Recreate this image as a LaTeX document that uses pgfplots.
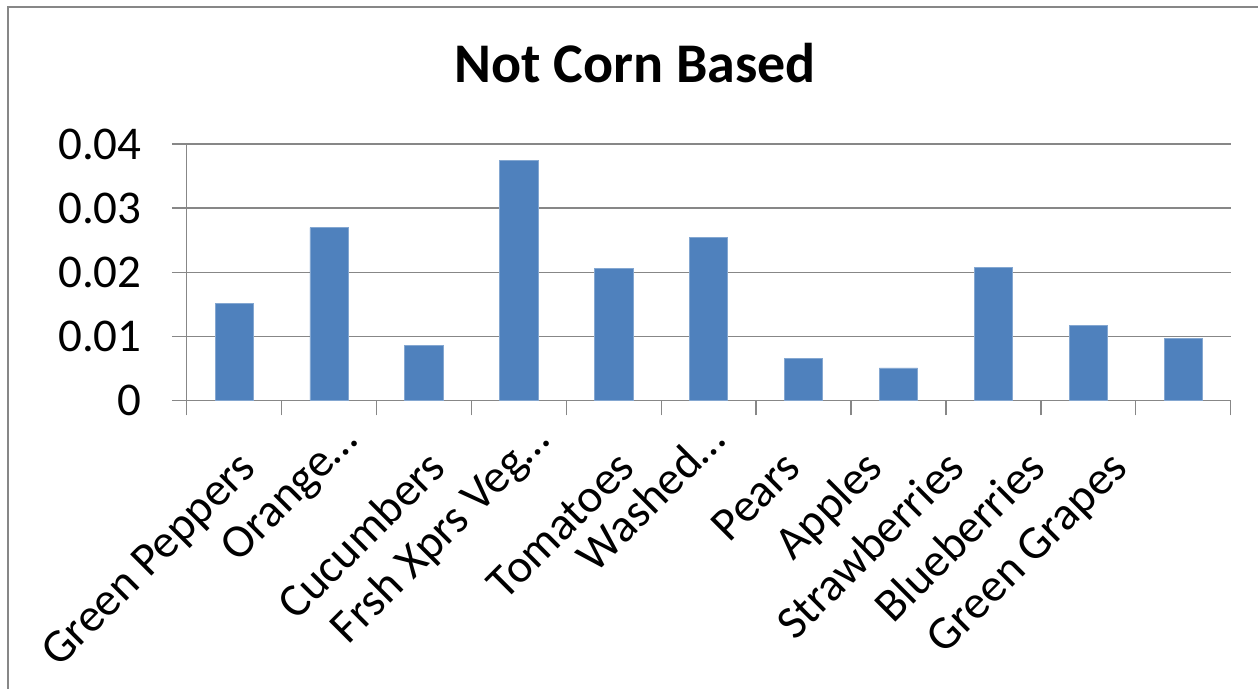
\documentclass[border=0pt]{standalone}
\usepackage{fontspec}
\setmainfont{Carlito}
\usepackage{pgfplots}
\pgfplotsset{compat=1.18}
\definecolor{barblue}{HTML}{4F81BD}
\definecolor{gridgray}{HTML}{878787}
\begin{document}
\begin{tikzpicture}
\useasboundingbox (0,0) rectangle (629pt,344.5pt);
\draw[gridgray, line width=1pt] (4pt,0pt) -- (4pt,341pt) -- (629pt,341pt);
\begin{axis}[
  at={(93.35pt,144.15pt)}, anchor=south west,
  scale only axis, width=521.95pt, height=128.35pt,
  xmin=-0.5, xmax=10.5, ymin=0, ymax=0.04,
  axis x line*=bottom, axis y line*=left,
  axis line style={gridgray, line width=0.7pt},
  scaled y ticks=false,
  ytick={0,0.01,0.02,0.03,0.04},
  yticklabels={0,0.01,0.02,0.03,0.04},
  ymajorgrids, grid style={gridgray, line width=0.7pt},
  tick align=outside, major tick length=7.4pt,
  tick style={gridgray, line width=0.7pt},
  xtick={-0.5,0.5,...,10.5}, xticklabels={},
  extra x ticks={0.251,1.621,2.253,3.644,4.245,5.499,5.994,6.858,7.722,8.576,9.440},
  extra x tick labels={Green Peppers,\raisebox{19.8pt}{Orange…},Cucumbers,\raisebox{19.8pt}{Frsh Xprs Veg…},Tomatoes,\raisebox{19.8pt}{Washed…},Pears,Apples,Strawberries,Blueberries,Green Grapes},
  extra x tick style={major tick length=0pt, tick style={draw=none},
    xticklabel style={rotate=45, anchor=base east, inner sep=0pt, font=\fontsize{23.5}{28}\selectfont}},
  xticklabel shift=34.65pt,
  yticklabel style={anchor=east, inner sep=0pt, xshift=-15pt, font=\fontsize{23.5}{28}\selectfont},
  /pgf/number format/assume math mode=true,
  title={\textbf{Not Corn Based}},
  title style={at={(0.4295,1)}, anchor=base, yshift=25pt, inner sep=0pt, font=\fontsize{28}{34}\selectfont\bfseries},
  clip=false,
]
\addplot[ybar, bar width=19.15pt, fill=barblue, draw=barblue!70!white, line width=0.4pt]
coordinates {(0,0.01522) (1,0.02696) (2,0.00863) (3,0.0374) (4,0.02057) (5,0.02547) (6,0.00654) (7,0.0051) (8,0.0208) (9,0.01169) (10,0.00966)};
\end{axis}
\end{tikzpicture}
\end{document}
